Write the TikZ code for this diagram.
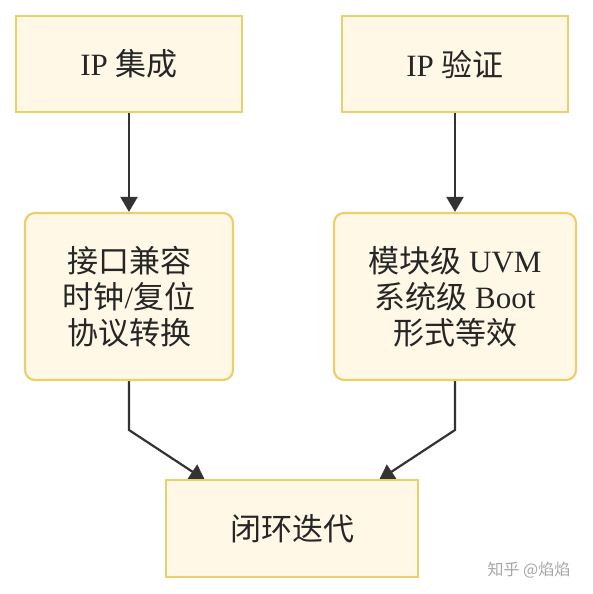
\documentclass[tikz,border=0pt]{standalone}
\usepackage{fontspec}
\setmainfont{Liberation Serif}
\newfontfamily\cjk{Noto Sans CJK SC}
\newcommand{\zh}[1]{{\cjk #1}}
\usetikzlibrary{arrows.meta,backgrounds}
\definecolor{boxfill}{HTML}{FFF8E6}
\definecolor{boxline}{HTML}{EBCF6C}
\definecolor{arrline}{HTML}{333333}
\begin{document}
\begin{tikzpicture}[x=1pt, y=-1pt,
box/.style = {draw=boxline, fill=boxfill, line width=2.2pt, align=center,
  inner sep=0pt, font=\fontsize{31}{36}\selectfont, text=black!85},
rbox/.style = {box, rounded corners=10pt},
arr/.style = {draw=arrline, line width=2.2pt, -{Triangle[length=15pt,width=17pt]}}]
    \useasboundingbox (0,0) rectangle (592,594);
    \node[box, minimum width=226pt, minimum height=96pt] (integ) at (129,64) {IP \zh{集成}};
    \node[box, minimum width=226pt, minimum height=96pt] (verif) at (455,64) {IP \zh{验证}};

    \node[rbox, minimum width=208pt, minimum height=167pt] (iface) at (129,296.5)
        {\zh{接口兼容}\\\zh{时钟}/\zh{复位}\\\zh{协议转换}};
    \node[rbox, minimum width=242pt, minimum height=167pt] (levels) at (455,296.5)
        {\zh{模块级} UVM\\\zh{系统级} Boot\\\zh{形式等效}};

    \node[box, minimum width=252pt, minimum height=97pt] (loop) at (292,528.5) {\zh{闭环迭代}};

    \coordinate (bendL) at (129,430);
    \coordinate (bendR) at (455,430);

    \draw[arr] (integ) -- (iface);
    \draw[arr] (verif) -- (levels);
    \begin{scope}[on background layer]
    \draw[arr] (iface) -- (bendL) -- ([xshift=40pt,yshift=-1pt]loop.north west);
    \draw[arr] (levels) -- (bendR) -- ([xshift=-40pt,yshift=-1pt]loop.north east);
    \end{scope}

    \node[text=black!35, font=\fontsize{16}{16}\selectfont] (mark) at (529,570) {\zh{知乎 @焰焰}};
\end{tikzpicture}
\end{document}
